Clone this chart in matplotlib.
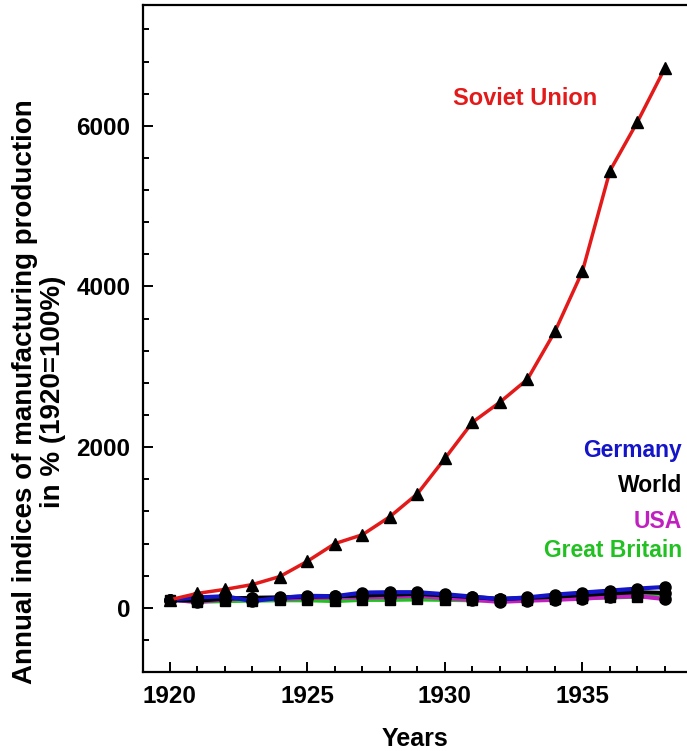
import numpy as np
import matplotlib
matplotlib.use("Agg")
import matplotlib.pyplot as plt
from matplotlib.ticker import MultipleLocator

# annual indices of manufacturing production, 1920 = 100 %
years = list(range(1920, 1939))
soviet = [100, 180, 230, 290, 390, 580, 800, 910, 1135, 1420, 1860, 2310, 2560, 2845,
          3440, 4190, 5440, 6050, 6720]
germany = [100, 130, 145, 85, 125, 150, 145, 190, 195, 195, 170, 140, 110, 130,
           165, 190, 215, 240, 260]
world = [100, 90, 115, 125, 130, 140, 145, 155, 165, 175, 155, 135, 110, 125,
         140, 160, 180, 195, 185]
usa = [100, 75, 105, 120, 110, 125, 130, 130, 135, 150, 120, 100, 75, 90,
       100, 115, 135, 145, 110]
britain = [100, 75, 85, 90, 95, 95, 85, 100, 100, 105, 100, 95, 95, 100,
           110, 120, 130, 140, 130]

c_red = "#e31a1a"
c_blue = "#1414c8"
c_mag = "#c020c0"
c_green = "#22c022"

plt.rcParams['font.family'] = ['Liberation Sans', 'DejaVu Sans']

fig = plt.figure(figsize=(6.87, 7.51), dpi=100)
ax = fig.add_axes([0.208, 0.105, 0.792, 0.888])

ax.plot(years, britain, color=c_green, lw=3, marker='s', ms=7.5, mfc='k', mec='k', zorder=2)
ax.plot(years, usa, color=c_mag, lw=3, marker='o', ms=8, mfc='k', mec='k', zorder=3)
ax.plot(years, world, color='k', lw=3, marker='o', ms=8, mfc='k', mec='k', zorder=4)
ax.plot(years, germany, color=c_blue, lw=3, marker='o', ms=8, mfc='k', mec='k', zorder=5)
ax.plot(years, soviet, color=c_red, lw=2.5, marker='^', ms=8.5, mfc='k', mec='k', zorder=6)

ax.set_xlim(1919.02, 1938.8)
ax.set_ylim(-800, 7500)
ax.xaxis.set_major_locator(MultipleLocator(5))
ax.xaxis.set_minor_locator(MultipleLocator(1))
ax.yaxis.set_major_locator(MultipleLocator(2000))
ax.yaxis.set_minor_locator(MultipleLocator(400))
ax.tick_params(which='both', direction='in', width=1.4, top=False, right=False)
ax.tick_params(which='major', length=7, labelsize=17.5, pad=9)
ax.tick_params(which='minor', length=4)
for lab in ax.get_xticklabels() + ax.get_yticklabels():
    lab.set_fontweight('bold')
for s in ['left', 'bottom', 'top']:
    ax.spines[s].set_linewidth(1.6)
ax.spines['right'].set_visible(False)

ax.set_xlabel("Years", fontsize=18, fontweight='bold', labelpad=14)
ax.set_ylabel("Annual indices of manufacturing production\nin % (1920=100%)",
              fontsize=20, fontweight='bold', linespacing=1.1)
ax.yaxis.set_label_coords(-0.141, 0.42)

# series labels
ax.text(1930.28, 6335, "Soviet Union", color=c_red, fontsize=17, fontweight='bold', ha='left', va='center')
ax.text(1938.62, 1960, "Germany", color=c_blue, fontsize=16.5, fontweight='bold', ha='right', va='center')
ax.text(1938.62, 1520, "World", color='k', fontsize=16.5, fontweight='bold', ha='right', va='center')
ax.text(1938.62, 1075, "USA", color=c_mag, fontsize=16.5, fontweight='bold', ha='right', va='center')
ax.text(1938.62, 720, "Great Britain", color=c_green, fontsize=16.5, fontweight='bold', ha='right', va='center')

fig.savefig("out.png", dpi=100)
